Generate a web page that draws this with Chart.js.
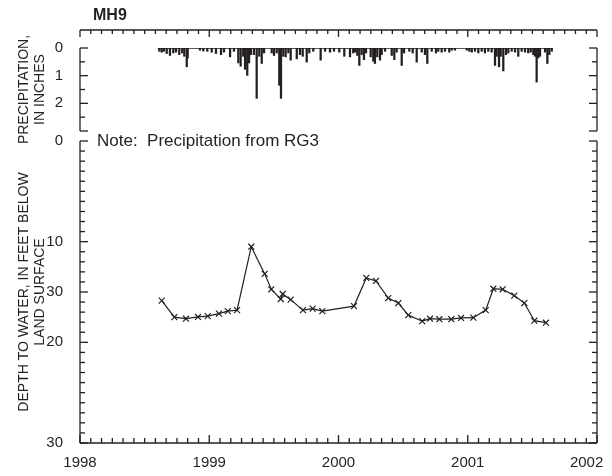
<!DOCTYPE html>
<html>
<head>
<meta charset="utf-8">
<script src="https://cdn.jsdelivr.net/npm/chart.js@4"></script>
<style>
  body { margin: 0; background: #fff; }
  #wrap { position: relative; width: 612px; height: 476px; }
  #wrap canvas { position: absolute; left: 0; top: 0; }
  .lbl { position: absolute; color: #231f20; white-space: pre; }
  #site { left: 93px; top: 6px; font: bold 16px "Liberation Sans", Arial, sans-serif; }
  #note { left: 97px; top: 131px; font: 17px "Liberation Sans", Arial, sans-serif; line-height: 20px; }
</style>
</head>
<body>
<div id="wrap">
  <canvas id="rain" width="612" height="476"></canvas>
  <canvas id="well" width="612" height="476"></canvas>
  <div class="lbl" id="site">MH9</div>
  <div class="lbl" id="note">Note:  Precipitation from RG3</div>
</div>
<script>
// precipitation at RG3, decimal years and inches
const precipDates = [
  1998.614, 1998.632, 1998.650, 1998.671, 1998.696, 1998.722, 1998.743, 1998.768, 1998.791, 1998.807,
  1998.826, 1998.833, 1998.928, 1998.954, 1998.985, 1999.019, 1999.052, 1999.091, 1999.114, 1999.161,
  1999.191, 1999.225, 1999.243, 1999.263, 1999.277, 1999.294, 1999.308, 1999.323, 1999.346, 1999.367,
  1999.387, 1999.406, 1999.424, 1999.483, 1999.501, 1999.522, 1999.542, 1999.555, 1999.573, 1999.591,
  1999.612, 1999.630, 1999.677, 1999.702, 1999.723, 1999.754, 1999.774, 1999.805, 1999.862, 1999.896,
  1999.934, 1999.965, 2000.006, 2000.045, 2000.089, 2000.114, 2000.128, 2000.145, 2000.161, 2000.179,
  2000.197, 2000.213, 2000.249, 2000.269, 2000.282, 2000.300, 2000.321, 2000.334, 2000.360, 2000.412,
  2000.432, 2000.450, 2000.489, 2000.507, 2000.548, 2000.574, 2000.605, 2000.644, 2000.669, 2000.687,
  2000.721, 2000.754, 2000.772, 2000.798, 2000.824, 2000.857, 2000.876, 2000.901, 2000.992, 2001.012,
  2001.031, 2001.056, 2001.082, 2001.108, 2001.133, 2001.159, 2001.185, 2001.211, 2001.224, 2001.242,
  2001.255, 2001.275, 2001.296, 2001.314, 2001.340, 2001.366, 2001.391, 2001.417, 2001.443, 2001.468,
  2001.487, 2001.507, 2001.520, 2001.533, 2001.546, 2001.559, 2001.598, 2001.616, 2001.631, 2001.650
];
const precipInches = [
  0.12, 0.15, 0.12, 0.20, 0.27, 0.18, 0.15, 0.24, 0.18, 0.30,
  0.68, 0.36, 0.08, 0.11, 0.12, 0.15, 0.20, 0.24, 0.15, 0.32,
  0.12, 0.54, 0.66, 0.30, 0.77, 0.99, 0.54, 0.24, 0.24, 1.82,
  0.30, 0.56, 0.18, 0.18, 0.27, 0.18, 1.35, 1.82, 0.30, 0.32,
  0.18, 0.44, 0.39, 0.24, 0.30, 0.51, 0.18, 0.12, 0.44, 0.12,
  0.15, 0.12, 0.15, 0.30, 0.32, 0.18, 0.15, 0.27, 0.63, 0.24,
  0.42, 0.18, 0.32, 0.48, 0.56, 0.32, 0.44, 0.24, 0.12, 0.27,
  0.42, 0.15, 0.63, 0.18, 0.12, 0.18, 0.51, 0.15, 0.24, 0.56,
  0.12, 0.18, 0.12, 0.15, 0.12, 0.15, 0.08, 0.08, 0.08, 0.12,
  0.15, 0.12, 0.18, 0.12, 0.18, 0.12, 0.15, 0.63, 0.30, 0.68,
  0.30, 0.83, 0.24, 0.18, 0.12, 0.15, 0.30, 0.12, 0.15, 0.18,
  0.15, 0.24, 0.30, 1.23, 0.36, 0.30, 0.15, 0.56, 0.24, 0.12
];
const precipRecord = [1998.600, 2001.660]; // start and end of the daily record

// depth to water at MH9, decimal years and feet below land surface
const wellDates = [
  1998.632, 1998.730, 1998.820, 1998.913, 1998.988, 1999.075, 1999.143, 1999.215, 1999.325, 1999.429,
  1999.480, 1999.553, 1999.568, 1999.630, 1999.725, 1999.800, 1999.875, 2000.120, 2000.215, 2000.290,
  2000.385, 2000.463, 2000.540, 2000.648, 2000.708, 2000.780, 2000.873, 2000.948, 2001.043, 2001.139,
  2001.198, 2001.270, 2001.360, 2001.438, 2001.515, 2001.605
];
const wellDepths = [
  15.86, 17.50, 17.65, 17.48, 17.40, 17.15, 16.90, 16.80, 10.50, 13.20,
  14.73, 15.70, 15.20, 15.76, 16.80, 16.65, 16.90, 16.40, 13.60, 13.90,
  15.60, 16.10, 17.30, 17.90, 17.65, 17.70, 17.70, 17.58, 17.55, 16.80,
  14.67, 14.73, 15.36, 16.10, 17.85, 18.05
];

const yearTicks = [1998, 1999, 2000, 2001, 2002];
const precipTicks = [0, 1, 2];
const depthTickValues = [0, 10, 15, 20, 30];
const depthTickLabels = ['0', '10', '30', '20', '30'];

const ink = '#231f20';
const sans = "'Liberation Sans', Arial, sans-serif";

// ticks pointing into the plot, as on the USGS figures
const frame = {
  id: 'frame',
  afterDraw(chart, args, o) {
    const { ctx, chartArea: a, scales: { x, y } } = chart;
    const seg = (x1, y1, x2, y2) => { ctx.beginPath(); ctx.moveTo(x1, y1); ctx.lineTo(x2, y2); ctx.stroke(); };
    ctx.save();
    ctx.strokeStyle = ink;
    ctx.lineWidth = 1.3;
    const y0 = y.getPixelForValue(o.yFrom), y1 = y.getPixelForValue(o.yTo);
    seg(a.left, y0, a.left, y1);
    seg(a.right, y0, a.right, y1);
    const nY = Math.round((o.yTo - o.yFrom) / o.yStep);
    for (let i = 0; i <= nY; i++) {
      const v = o.yFrom + i * o.yStep;
      const p = y.getPixelForValue(v);
      const len = o.yMajor.includes(v) ? 8 : 5;
      seg(a.left, p, a.left + len, p);
      seg(a.right, p, a.right - len, p);
    }
    const xy = o.xTop ? a.top - o.xGap : a.bottom;
    const dir = o.xTop ? 1 : -1;
    const xMin = yearTicks[0], xMax = yearTicks[yearTicks.length - 1];
    seg(x.getPixelForValue(xMin), xy, x.getPixelForValue(xMax), xy);
    const nX = (xMax - xMin) * 12;
    for (let m = 0; m <= nX; m++) {
      const p = x.getPixelForValue(xMin + m / 12);
      seg(p, xy, p, xy + dir * (m % 12 === 0 ? o.xMajorLen : o.xMinorLen));
    }
    ctx.restore();
  }
};

const yTitle = (lines) => ({
  display: true, text: lines, color: ink,
  font: { family: sans, size: 14, lineHeight: '16px' },
  padding: { top: 16, bottom: 0 }
});

// keep the plot box fixed: no extra room for overhanging labels
const noPad = s => { s.paddingLeft = 0; s.paddingRight = 0; s.paddingTop = 0; s.paddingBottom = 0; };

new Chart(document.getElementById('rain'), {
  type: 'bar',
  data: {
    datasets: [
      {
        type: 'bar',
        data: precipDates.map((d, i) => ({ x: d, y: precipInches[i] })),
        backgroundColor: ink,
        barThickness: 1.6
      },
      {
        type: 'line',
        data: precipRecord.map(d => ({ x: d, y: 0 })),
        borderColor: ink, borderWidth: 1.6, pointRadius: 0
      }
    ]
  },
  options: {
    responsive: false,
    animation: false,
    layout: { padding: { top: 48, bottom: 345, left: 0, right: 15 } },
    plugins: {
      legend: { display: false }, tooltip: { enabled: false },
      frame: { yFrom: 0, yTo: 3, yStep: 0.5, yMajor: [0, 1, 2, 3], xTop: true, xGap: 18, xMajorLen: 7, xMinorLen: 4 }
    },
    scales: {
      x: { type: 'linear', min: 1998, max: 2002, offset: false, display: false },
      y: {
        min: 0, max: 3, reverse: true,
        afterFit: s => { s.width = 80; noPad(s); },
        afterBuildTicks: s => { s.ticks = precipTicks.map(v => ({ value: v })); },
        grid: { display: false, drawTicks: false },
        border: { display: false },
        ticks: { color: ink, padding: 17, font: { family: sans, size: 15 } },
        title: yTitle(['PRECIPITATION,', 'IN INCHES'])
      }
    }
  },
  plugins: [frame]
});

new Chart(document.getElementById('well'), {
  type: 'line',
  data: {
    datasets: [{
      data: wellDates.map((d, i) => ({ x: d, y: wellDepths[i] })),
      borderColor: ink, borderWidth: 1.2,
      pointStyle: 'crossRot', pointRadius: 4.2, pointBorderWidth: 1.2,
      pointBorderColor: ink, tension: 0
    }]
  },
  options: {
    responsive: false,
    animation: false,
    layout: { padding: { top: 141, bottom: 0, left: 0, right: 15 } },
    plugins: {
      legend: { display: false }, tooltip: { enabled: false },
      frame: { yFrom: 0, yTo: 30, yStep: 1, yMajor: depthTickValues, xTop: false, xGap: 0, xMajorLen: 8, xMinorLen: 5 }
    },
    scales: {
      x: {
        type: 'linear', min: 1998, max: 2002,
        afterFit: s => { s.height = 33; noPad(s); },
        afterBuildTicks: s => { s.ticks = yearTicks.map(v => ({ value: v })); },
        grid: { display: false, drawTicks: false },
        border: { display: false },
        ticks: {
          color: ink, padding: 11, maxRotation: 0, autoSkip: false, font: { family: sans, size: 15 },
          // last label is nudged left (trailing spaces) so it stays on the page
          callback: v => v === yearTicks[yearTicks.length - 1] ? String(v) + '     ' : String(v)
        }
      },
      y: {
        min: 0, max: 30, reverse: true,
        afterFit: s => { s.width = 80; noPad(s); },
        afterBuildTicks: s => { s.ticks = depthTickValues.map(v => ({ value: v })); },
        grid: { display: false, drawTicks: false },
        border: { display: false },
        ticks: { color: ink, padding: 17, font: { family: sans, size: 15 },
          callback: v => depthTickLabels[depthTickValues.indexOf(v)] },
        title: yTitle(['DEPTH TO WATER, IN FEET BELOW', 'LAND SURFACE'])
      }
    }
  },
  plugins: [frame]
});
</script>
</body>
</html>
